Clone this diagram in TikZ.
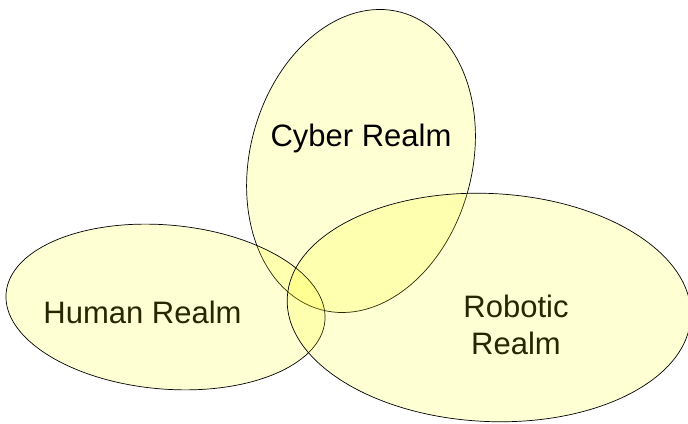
\documentclass[tikz,border=0pt]{standalone}
\usepackage{fontspec}
\setmainfont{Liberation Sans}
\definecolor{realmfill}{RGB}{255,255,0}
\definecolor{darkolive}{RGB}{38,38,0}
\begin{document}
\begin{tikzpicture}[x=1pt,y=1pt,
  realm/.style={draw=black, line width=0.7pt, fill=realmfill, fill opacity=0.17},
  label/.style={inner sep=0pt, anchor=base, font=\fontsize{31}{37}\selectfont}]
\useasboundingbox (0,0) rectangle (688,423);

% the three overlapping realms
\draw[realm, rotate around={-15:(361,262)}] (361,262) ellipse [x radius=111, y radius=154];
\draw[realm, rotate around={-5:(165.5,116)}] (165.5,116) ellipse [x radius=160, y radius=82];
\draw[realm, rotate around={-2.75:(489,115.5)}] (489,115.5) ellipse [x radius=202, y radius=114];

% labels
\node[label, text=black] (cyber) at (361,276.3) {Cyber Realm};
\node[label, text=darkolive] (human) at (142.5,99.7) {Human Realm};
\node[label, text=darkolive] (robotic) at (516,105.7) {Robotic};
\node[label, text=darkolive] (roboticrealm) at (516,68) {Realm};
\end{tikzpicture}
\end{document}
